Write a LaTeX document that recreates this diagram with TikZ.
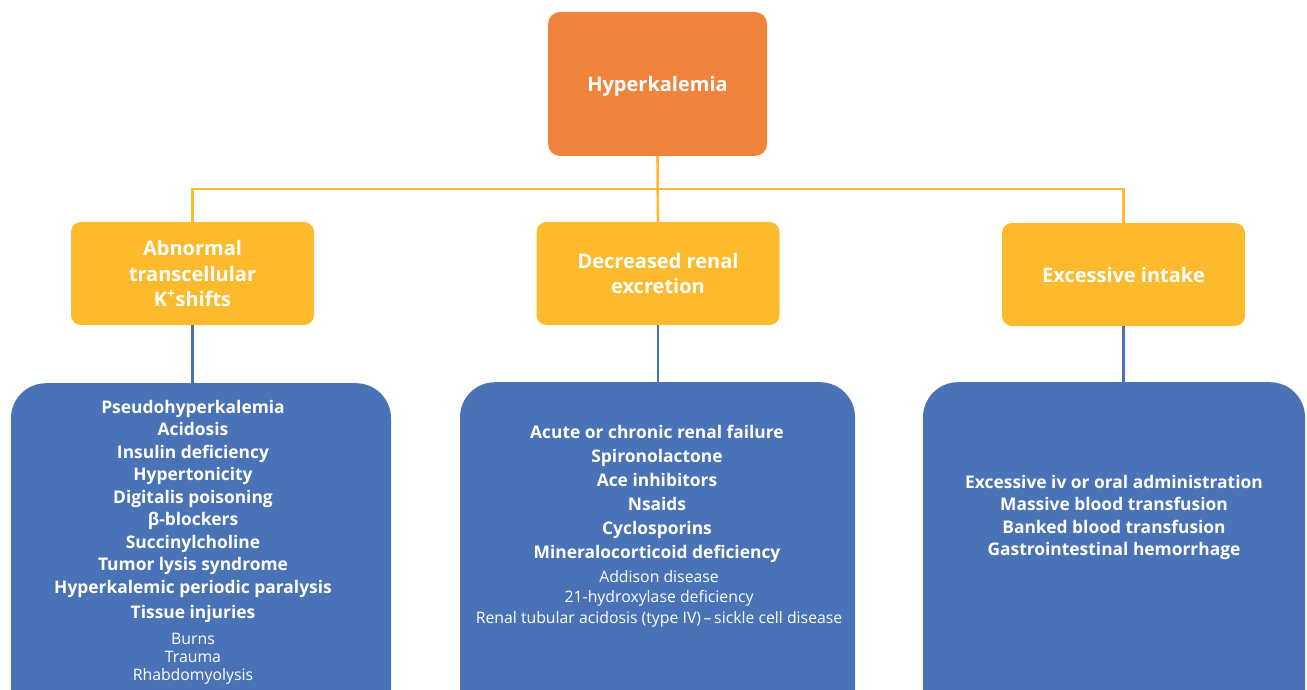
\documentclass[tikz,border=0pt]{standalone}
\usepackage{fontspec}
\setmainfont{Open Sans}
\definecolor{hkOrange}{HTML}{F0843C}
\definecolor{hkYellow}{HTML}{FDBA2C}
\definecolor{hkBlue}{HTML}{4A73B7}
% list fonts: bold entries and smaller regular sub-entries, same baselineskip
\newcommand{\hkBig}[1][22.5]{\fontsize{17.4}{#1}\bfseries\selectfont}
\newcommand{\hkSmall}[1][22.5]{\fontsize{15.8}{#1}\mdseries\selectfont}

\tikzset{
  topbox/.style={fill=hkOrange, rounded corners=12pt, minimum width=219pt, minimum height=144pt, text=white, text depth=1pt, font=\fontsize{20}{24}\bfseries\selectfont},
  groupbox/.style={fill=hkYellow, rounded corners=10pt, minimum width=243pt, minimum height=103pt, text=white, align=center, font=\fontsize{20}{25.5}\bfseries\selectfont},
  listbox/.style={fill=hkBlue, rounded corners=35pt, anchor=north, inner sep=0pt},
  listtext/.style={text=white, align=center, inner sep=0pt},
  tree/.style={draw=hkYellow, line width=2.6pt},
  leaf/.style={draw=hkBlue, line width=2.4pt}
}

\begin{document}
\begin{tikzpicture}[x=1pt,y=-1pt]
\clip (0,0) rectangle (1307,690);
\node[topbox] (hyper) at (657.5,84) {Hyperkalemia};
\node[groupbox] (shifts) at (192.5,273.5) {Abnormal\\transcellular\\K\textsuperscript{+}shifts};
\node[groupbox] (renal) at (658,273.5) {Decreased renal\\excretion};
\node[groupbox] (intake) at (1123.5,274.5) {Excessive intake};
\coordinate (bus) at (657.5,189);

\node[listbox, minimum width=380pt, minimum height=360pt] (shiftlist) at (201,383) {};
\node[listbox, minimum width=395pt, minimum height=360pt] (renallist) at (657.5,382) {};
\node[listbox, minimum width=382pt, minimum height=360pt] (intakelist) at (1114,382) {};

\node[listtext, font=\hkBig] (shifttext) at (193,542) {Pseudohyperkalemia\\ Acidosis\\ Insulin deficiency\\ Hypertonicity\\ Digitalis poisoning\\ β-blockers\\ Succinylcholine\\ Tumor lysis syndrome\\ Hyperkalemic periodic paralysis\\[2.5pt] Tissue injuries\\[3.5pt] \hkSmall Burns\\[-4.5pt] \hkSmall Trauma\\[-4.5pt] \hkSmall Rhabdomyolysis};
\node[listtext, font={\hkBig[24]}] (renaltext) at (657,526) {Acute or chronic renal failure\\ Spironolactone\\ Ace inhibitors\\ Nsaids\\ Cyclosporins\\ Mineralocorticoid deficiency\\ \hkSmall[24] Addison disease\\[-3.5pt] \hkSmall[24] 21-hydroxylase deficiency\\[-3.5pt] \hkSmall[24] Renal tubular acidosis (type IV)\,--\,sickle cell disease};
\node[listtext, font=\hkBig] (intaketext) at (1114,517.5) {Excessive iv or oral administration\\ Massive blood transfusion\\ Banked blood transfusion\\ Gastrointestinal hemorrhage};

% yellow tree
\draw[tree] (hyper.south) -- (renal.north);
\draw[tree] (shifts.north) |- (bus) -| (intake.north);
% blue links
\draw[leaf] (shifts.south) -- (shifts.south |- shiftlist.north);
\draw[leaf] (renal.south) -- (renal.south |- renallist.north);
\draw[leaf] (intake.south) -- (intake.south |- intakelist.north);
\end{tikzpicture}
\end{document}
